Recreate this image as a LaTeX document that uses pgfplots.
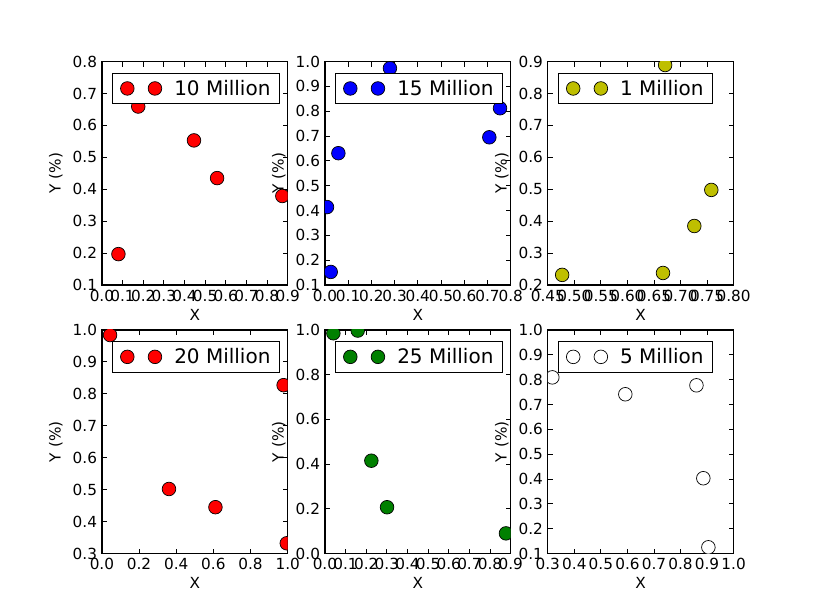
\documentclass[border=0pt]{standalone}
\usepackage{pgfplots}
\pgfplotsset{compat=1.18}
\usepackage{fontspec}
\setmainfont{DejaVu Sans}
\definecolor{mplyellow}{rgb}{0.75,0.75,0}
\definecolor{mplgreen}{rgb}{0,0.5,0}
\pgfplotsset{
  mpl/.style={
    scale only axis, width=133.78pt, height=160.99pt, anchor=south west,
    axis line style={line width=0.9pt},
    every tick/.style={black, line width=0.6pt},
    major tick length=3.6pt,
    tick align=inside,
    tick label style={font=\fontsize{11}{13}\selectfont},
    /pgf/number format/assume math mode=true,
    label style={font=\fontsize{11}{13}\selectfont},
    xlabel={X}, ylabel={Y (\%)},
    xlabel style={at={(axis description cs:0.5,-0.132)}, anchor=center},
    ylabel style={at={(axis description cs:-0.2476,0.5)}, anchor=center},
    clip=true, clip marker paths=true,
    legend style={draw=black, line width=0.8pt, at={(0,1)}, anchor=north west,
      xshift=7.5pt, yshift=-8pt, font=\fontsize{14.4}{17}\selectfont,
      inner xsep=0pt, inner ysep=0pt, nodes={inner sep=0pt, draw=none}, column sep=0pt},
    legend image code/.code={
      \path[draw=none, fill=none] (-10.4pt,-11pt) rectangle (33.8pt,11pt);
      \draw[#1, only marks] plot coordinates {(0pt,0pt) (19.9pt,0pt)};
    },
    xticklabel style={/pgf/number format/.cd, fixed, fixed zerofill, precision=1},
    yticklabel style={/pgf/number format/.cd, fixed, fixed zerofill, precision=1},
  },
  pts/.style={only marks, mark=*, mark size=4.9pt,
    mark options={draw=black, line width=0.5pt, fill=#1}},
}
\begin{document}
\begin{tikzpicture}
\path[use as bounding box] (0,0) rectangle (586.8pt,442.8pt);
% row 1, col 1
\begin{axis}[mpl, at={(73.37pt,237.53pt)},
  xmin=0, xmax=0.9, ymin=0.1, ymax=0.8,
  xtick={0,0.1,0.2,0.3,0.4,0.5,0.6,0.7,0.8,0.9},
  ytick={0.1,0.2,0.3,0.4,0.5,0.6,0.7,0.8}]
\addplot[pts=red] coordinates {(0.080,0.197) (0.176,0.659) (0.446,0.553) (0.558,0.435) (0.874,0.379)};
\addlegendentry{10 Million\hspace*{6.5pt}}
\end{axis}
% row 1, col 2
\begin{axis}[mpl, at={(233.93pt,237.53pt)},
  xmin=0, xmax=0.8, ymin=0.1, ymax=1.0,
  xtick={0,0.1,0.2,0.3,0.4,0.5,0.6,0.7,0.8},
  ytick={0.1,0.2,0.3,0.4,0.5,0.6,0.7,0.8,0.9,1.0}]
\addplot[pts=blue] coordinates {(0.280,0.973) (0.058,0.631) (0.009,0.414) (0.025,0.153) (0.708,0.695) (0.754,0.812)};
\addlegendentry{15 Million\hspace*{6.5pt}}
\end{axis}
% row 1, col 3
\begin{axis}[mpl, at={(394.42pt,237.53pt)},
  xmin=0.45, xmax=0.80, ymin=0.2, ymax=0.9,
  xtick={0.45,0.50,0.55,0.60,0.65,0.70,0.75,0.80},
  xticklabel style={/pgf/number format/.cd, fixed, fixed zerofill, precision=2},
  ytick={0.2,0.3,0.4,0.5,0.6,0.7,0.8,0.9}]
\addplot[pts=mplyellow] coordinates {(0.671,0.889) (0.758,0.498) (0.726,0.385) (0.667,0.238) (0.477,0.232)};
\addlegendentry{1 Million\hspace*{6.5pt}}
\end{axis}
% row 2, col 1
\begin{axis}[mpl, at={(73.37pt,44.28pt)},
  xmin=0, xmax=1.0, ymin=0.3, ymax=1.0,
  xtick={0,0.2,0.4,0.6,0.8,1.0},
  ytick={0.3,0.4,0.5,0.6,0.7,0.8,0.9,1.0}]
\addplot[pts=red] coordinates {(0.044,0.984) (0.361,0.502) (0.611,0.445) (0.978,0.827) (0.995,0.332) (0.887,0.890)};
\addlegendentry{20 Million\hspace*{6.5pt}}
\end{axis}
% row 2, col 2
\begin{axis}[mpl, at={(233.93pt,44.28pt)},
  xmin=0, xmax=0.9, ymin=0, ymax=1.0,
  xtick={0,0.1,0.2,0.3,0.4,0.5,0.6,0.7,0.8,0.9},
  ytick={0,0.2,0.4,0.6,0.8,1.0}]
\addplot[pts=mplgreen] coordinates {(0.041,0.985) (0.159,0.997) (0.225,0.415) (0.301,0.207) (0.877,0.090)};
\addlegendentry{25 Million\hspace*{6.5pt}}
\end{axis}
% row 2, col 3
\begin{axis}[mpl, at={(394.42pt,44.28pt)},
  xmin=0.3, xmax=1.0, ymin=0.1, ymax=1.0,
  xtick={0.3,0.4,0.5,0.6,0.7,0.8,0.9,1.0},
  ytick={0.1,0.2,0.3,0.4,0.5,0.6,0.7,0.8,0.9,1.0}]
\addplot[pts=white] coordinates {(0.317,0.809) (0.592,0.741) (0.860,0.777) (0.886,0.403) (0.905,0.125)};
\addlegendentry{5 Million\hspace*{6.5pt}}
\end{axis}
\end{tikzpicture}
\end{document}
